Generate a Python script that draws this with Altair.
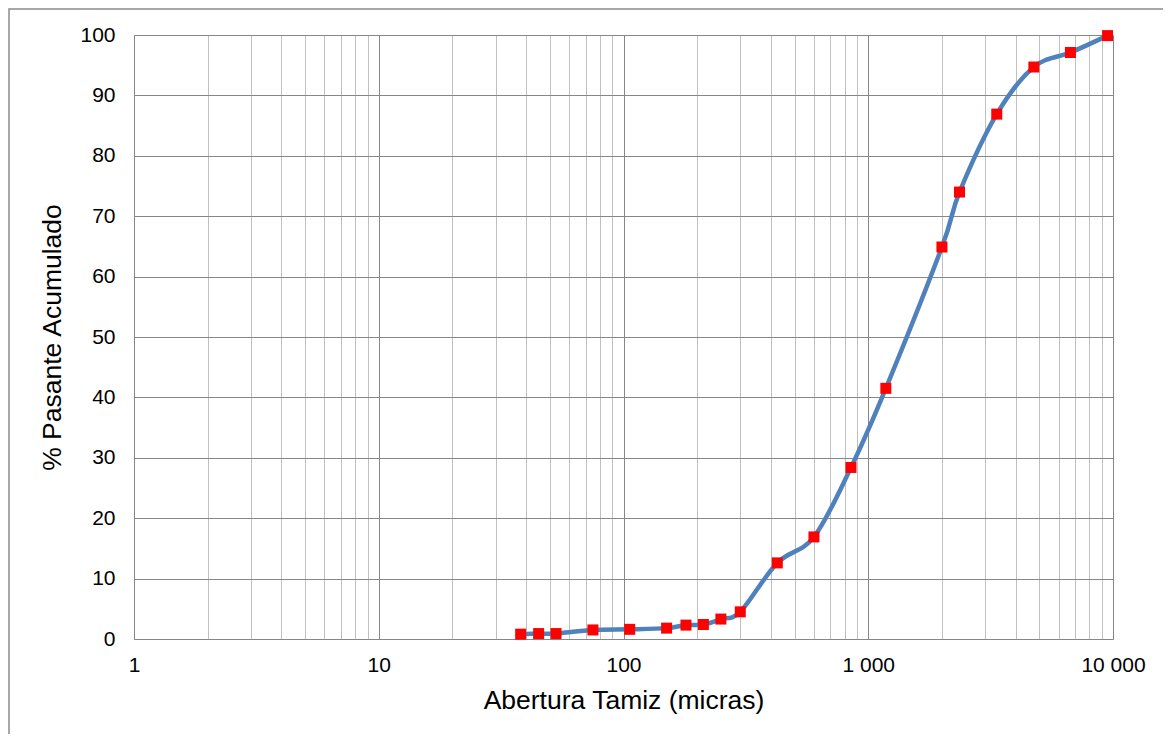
import json
import altair as alt
import pandas as pd

# Sieve openings (microns) and cumulative % passing
abertura = [38, 45, 53, 75, 106, 150, 180, 212, 250, 300,
            425, 600, 850, 1180, 2000, 2360, 3350, 4750, 6700, 9500]
pasante = [0.8, 0.9, 0.9, 1.5, 1.6, 1.8, 2.3, 2.4, 3.3, 4.5,
           12.6, 16.9, 28.4, 41.5, 64.9, 74.0, 86.9, 94.7, 97.1, 99.9]

x_major = [1, 10, 100, 1000, 10000]
x_major_labels = ["1", "10", "100", "1 000", "10 000"]
x_grid = [m * 10 ** k for k in range(4) for m in range(1, 10)] + [10000]
y_ticks = list(range(0, 101, 10))

df = pd.DataFrame({"abertura": abertura, "pasante": pasante})

FONT = "Liberation Sans"
MAJOR = "#868686"
MINOR = "#c0c0c0"

major_js = json.dumps(x_major)
labels_js = json.dumps(x_major_labels)
label_expr = (f"indexof({major_js}, datum.value) >= 0 ? "
              f"{labels_js}[indexof({major_js}, datum.value)] : ''")

x_enc = alt.X(
    "abertura:Q",
    scale=alt.Scale(type="log", domain=[1, 10000], nice=False),
    axis=alt.Axis(
        title="Abertura Tamiz (micras)",
        values=x_grid,
        labelExpr=label_expr,
        ticks=False,
        tickSize=0,
        labelPadding=15,
        titlePadding=12,
        labelFlush=False,
        gridColor={"condition": {"test": f"indexof({major_js}, datum.value) >= 0",
                                 "value": MAJOR},
                   "value": MINOR},
        labelOverlap=False,
    ),
)
y_enc = alt.Y(
    "pasante:Q",
    scale=alt.Scale(domain=[0, 100], nice=False),
    axis=alt.Axis(
        title="% Pasante Acumulado",
        values=y_ticks,
        ticks=False,
        tickSize=0,
        labelPadding=19,
        titlePadding=13,
        labelFlush=False,
        gridColor=MAJOR,
    ),
)

line = alt.Chart(df).mark_line(
    interpolate="cardinal", color="#4F81BD", strokeWidth=4.5
).encode(x=x_enc, y=y_enc)

points = alt.Chart(df).mark_point(
    shape="square", filled=True, color="#FF0000", size=121, opacity=1
).encode(x="abertura:Q", y="pasante:Q")

frame = alt.Chart(alt.Data(values=[{}])).mark_rect(
    fill=None, stroke="#8c8c8c", strokeWidth=1.5
).encode(
    x=alt.value(-125), x2=alt.value(1300),
    y=alt.value(-26), y2=alt.value(900),
)

chart = alt.layer(frame, line, points).properties(
    width=979,
    height=604,
    autosize=alt.AutoSizeParams(type="none"),
    padding={"left": 126, "top": 27, "right": 50, "bottom": 95},
    background="white",
).configure_view(
    stroke=None
).configure_axis(
    labelFont=FONT,
    titleFont=FONT,
    labelFontSize=21,
    titleFontSize=26.5,
    titleFontWeight="normal",
    labelColor="#000000",
    titleColor="#000000",
    domainColor=MAJOR,
    gridWidth=1,
    gridOpacity=1,
)

chart.save("out.html", embed_options={"renderer": "svg", "actions": False})
